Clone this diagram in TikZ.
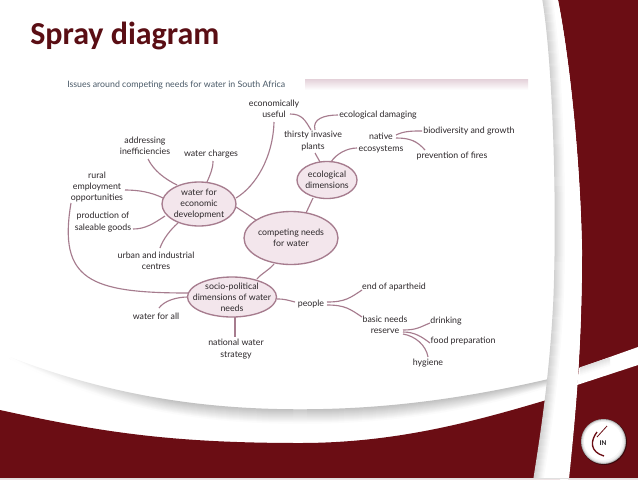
\documentclass[tikz,border=0pt]{standalone}
\usepackage{fontspec}
\setmainfont{Carlito}
\newfontfamily\labelfont{Lato}
\usetikzlibrary{shapes.geometric,fadings}
\definecolor{wine}{HTML}{6B0D14}
\definecolor{titlewine}{HTML}{5A0E14}
\definecolor{plum}{HTML}{A67C8E}
\definecolor{blush}{HTML}{F3E6EC}
\definecolor{inkdark}{HTML}{2C272A}
\definecolor{subblue}{HTML}{4A5A68}
\tikzset{
 px/.style={x=0.75pt,y=-0.75pt},
 hub/.style={ellipse,draw=plum,line width=1pt,fill=blush,inner sep=0pt},
 leaf/.style={text=inkdark,font=\labelfont\fontsize{6.6}{8.4}\selectfont,align=center,inner sep=1pt},
 link/.style={draw=plum,line width=0.85pt},
}
\newcommand{\at}[3]{([shift={(#2,#3)}]#1.center)}
\begin{document}
\begin{tikzpicture}[px]
\useasboundingbox (0,0) rectangle (638,479);
\fill[white] (0,0) rectangle (638,479);
% lower wine swoosh
\fill[wine] (0,410) .. controls (100,432) and (170,443) .. (300,443) .. controls (400,443) and (480,420) .. (560,396) -- (560,479) -- (0,479) -- cycle;
% swoosh shadow
\foreach \i in {0,...,13}{
 \pgfmathsetmacro{\g}{24*(1-\i/14)}
 \draw[black!\g!white,line width=1.1pt] (10,358) .. controls (100,{392+\i}) and (190,{410+\i}) .. (300,{410+\i}) .. controls (390,{410+\i}) and (470,{398+\i}) .. (552,{379+\i/2});
}
\fill[white,path fading=east] (0,350) rectangle (170,408);
% right wine panel
\fill[wine] (558,0) .. controls (568,50) and (580,150) .. (582,250) .. controls (582,350) and (575,420) .. (568,479) -- (638,479) -- (638,0) -- cycle;
% white band
\fill[white] (543,0) .. controls (553,60) and (558,200) .. (554,300) .. controls (550,380) and (540,440) .. (534,479) -- (569,479) .. controls (575,420) and (582,350) .. (582,250) .. controls (580,150) and (568,50) .. (558,0) -- cycle;
% diagonal stripe on right panel
\fill[white] (579,368) -- (638,347) -- (638,365) -- (577,385) -- cycle;
\foreach \i in {0,...,7}{
 \pgfmathsetmacro{\g}{12*(1-\i/8)}
 \draw[black!\g!white,line width=1pt] (580,{368+\i}) -- (610,{358+\i});
}
% band shadow
\foreach \i in {0,...,9}{
 \pgfmathsetmacro{\g}{18*(1-\i/10)}
 \draw[black!\g!white,line width=1pt] ({543+\i},0) .. controls ({553+\i},60) and ({558+\i},200) .. ({554+\i},300) .. controls ({550+\i},380) and ({540+\i},440) .. ({534+\i},479);
}
\fill[black!12] (0,478) rectangle (638,479);
% logo
\fill[black!45!wine] (604,442) circle (23);
\foreach \r/\g in {22.5/50,22/64,21.5/78,21/88,20/95}{\fill[white!\g!black!70!white] (603.5,441.5) circle (\r);}
\fill[white] (603,441) circle (19);
\draw[wine,line width=1pt] (597,432) .. controls (590,441) and (590,452) .. (604,456);
\draw[wine,line width=0.6pt] (597,437) -- (607,426);
\node[font=\bfseries\fontsize{5.5}{6}\selectfont,text=inkdark,inner sep=0pt] (logotext) at (603,443) {IN};
% title
\node[anchor=west,inner sep=0pt,text=titlewine,font=\bfseries\fontsize{24}{28}\selectfont] (title) at (30,36) {Spray diagram};
\node[anchor=west,inner sep=0pt,text=subblue,font=\labelfont\fontsize{6.6}{7}\selectfont] (subtitle) at (67,85.5) {Issues around competing needs for water in South Africa};
\shade[top color=blush!80!plum,bottom color=white] (305,79) rectangle (528,90);
% hubs
\node[hub,minimum width=70.5pt,minimum height=39.75pt] (compete) at (291,238) {};
\node[leaf] (competetext) at (compete) {competing needs\\for water};
\node[hub,minimum width=45pt,minimum height=27.75pt] (ecol) at (327,180) {};
\node[leaf] (ecoltext) at (ecol) {ecological\\dimensions};
\node[hub,minimum width=55.5pt,minimum height=33pt] (econ) at (199,204) {};
\node[leaf] (econtext) at (econ) {water for\\economic\\development};
\node[hub,minimum width=66.75pt,minimum height=30pt] (socio) at (232,297) {};
\node[leaf] (sociotext) at (socio) {socio-political\\dimensions of water\\needs};
% leaves
\node[leaf] (useful) at (274,109) {economically\\useful};
\node[leaf] (thirsty) at (313,141) {thirsty invasive\\plants};
\node[leaf] (damage) at (378,115) {ecological damaging};
\node[leaf] (native) at (381,143) {native\\ecosystems};
\node[leaf] (biodiv) at (469,131) {biodiversity and growth};
\node[leaf] (fires) at (452,156) {prevention of fires};
\node[leaf] (address) at (145,146) {addressing\\inefficiencies};
\node[leaf] (charges) at (211,154) {water charges};
\node[leaf] (rural) at (97,187) {rural\\employment\\opportunities};
\node[leaf] (goods) at (103,222) {production of\\saleable goods};
\node[leaf] (urban) at (156,261) {urban and industrial\\centres};
\node[leaf] (forall) at (156,316) {water for all};
\node[leaf] (national) at (236,349) {national water\\strategy};
\node[leaf] (people) at (311,304) {people};
\node[leaf] (apartheid) at (394,287) {end of apartheid};
\node[leaf] (basic) at (385,325) {basic needs\\reserve};
\node[leaf] (drinking) at (446,321) {drinking};
\node[leaf] (food) at (463,341) {food preparation};
\node[leaf] (hygiene) at (428,363) {hygiene};
% connectors
\draw[link] \at{useful}{16}{5} .. controls +(12,0) and +(-6,-10) .. \at{thirsty}{-2}{-11};
\draw[link] \at{damage}{-40}{0} .. controls +(-14,0) and +(-3,-11) .. \at{thirsty}{2}{-11};
\draw[link] \at{thirsty}{2}{12} -- \at{ecol}{-7}{-18};
\draw[link] \at{ecol}{4}{-18} .. controls +(5,-8) and +(-10,0) .. \at{native}{-24}{5};
\draw[link] \at{native}{15}{-8} .. controls +(8,-4) and +(-10,0) .. \at{biodiv}{-47}{0};
\draw[link] \at{native}{15}{-5} .. controls +(14,0) and +(-8,-9) .. \at{fires}{-27}{-6};
\draw[link] \at{ecol}{-14}{18} -- \at{compete}{15}{-25};
\draw[link] \at{useful}{0}{13} .. controls +(-1,35) and +(20,-12) .. \at{econ}{37}{-6};
\draw[link] \at{econ}{37}{3} -- \at{compete}{-35}{-18};
\draw[link] \at{compete}{-17}{26} .. controls +(-6,7) and +(5,-6) .. \at{socio}{25}{-18};
\draw[link] \at{address}{3}{13} .. controls +(6,12) and +(-12,-6) .. \at{econ}{-22}{-19};
\draw[link] \at{charges}{2}{7} .. controls +(0,8) and +(3,-7) .. \at{econ}{8}{-22};
\draw[link] \at{rural}{28}{3} .. controls +(13,0) and +(-12,-6) .. \at{econ}{-36}{-6};
\draw[link] \at{goods}{30}{7} .. controls +(12,0) and +(-12,8) .. \at{econ}{-34}{12};
\draw[link] \at{urban}{4}{-13} .. controls +(3,-9) and +(-7,6) .. \at{econ}{-21}{19};
\draw[link] \at{rural}{-26}{16} .. controls +(-13,77) and +(-98,0) .. \at{socio}{-44}{-4};
\draw[link] \at{forall}{3}{-8} .. controls +(5,-7) and +(-12,0) .. \at{socio}{-44}{0};
\draw[link] \at{socio}{3}{20} -- \at{national}{-1}{-12};
\draw[link] \at{socio}{45}{2} .. controls +(8,0) and +(-8,-2) .. \at{people}{-16}{-2};
\draw[link] \at{people}{16}{-2} .. controls +(18,0) and +(-12,8) .. \at{apartheid}{-32}{3};
\draw[link] \at{people}{16}{1} .. controls +(18,0) and +(-12,-8) .. \at{basic}{-23}{-8};
\draw[link] \at{basic}{18}{5} .. controls +(14,0) and +(-10,4) .. \at{drinking}{-16}{2};
\draw[link] \at{basic}{18}{7} .. controls +(12,0) and +(-8,-6) .. \at{food}{-33}{2};
\draw[link] \at{basic}{18}{9} .. controls +(12,2) and +(-2,-12) .. \at{hygiene}{0}{-6};
\end{tikzpicture}
\end{document}
